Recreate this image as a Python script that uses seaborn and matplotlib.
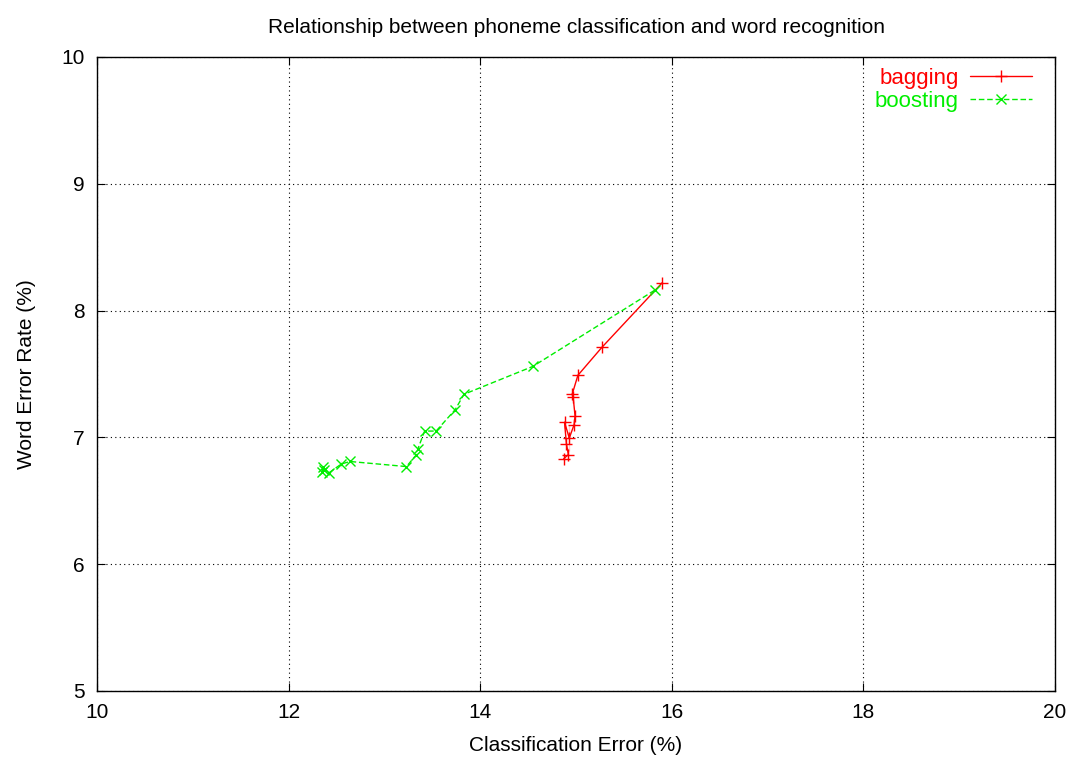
import matplotlib
matplotlib.use("Agg")
import matplotlib.pyplot as plt
import seaborn as sns
import pandas as pd

bagging_x = [15.90, 15.27, 15.02, 14.96, 14.97, 14.99, 14.98, 14.93, 14.88, 14.90, 14.92, 14.93, 14.87, 14.92]
bagging_y = [8.22, 7.71, 7.49, 7.34, 7.32, 7.17, 7.10, 7.10, 7.12, 6.95, 6.92, 6.89, 6.83, 6.81]
boosting_x = [15.82, 14.55, 13.83, 13.74, 13.54, 13.42, 13.35, 13.33, 13.23, 12.64, 12.55, 12.55, 12.42, 12.37, 12.36, 12.35]
boosting_y = [8.16, 7.56, 7.34, 7.22, 7.05, 7.05, 6.91, 6.86, 6.77, 6.81, 6.81, 6.77, 6.72, 6.74, 6.77, 6.73]

sns.set_style("ticks")
plt.rcParams['font.family'] = ['Liberation Sans', 'DejaVu Sans']
plt.rcParams['text.color'] = 'black'
plt.rcParams['axes.labelcolor'] = 'black'
plt.rcParams['xtick.color'] = 'black'
plt.rcParams['ytick.color'] = 'black'

fig = plt.figure(figsize=(10.73, 7.58), dpi=100)
ax = fig.add_axes([97/1073, 1-691/758, (1055-97)/1073, (691-57)/758])

df_bag = pd.DataFrame({"x": bagging_x, "y": bagging_y})
df_boo = pd.DataFrame({"x": boosting_x, "y": boosting_y})

red = "#ff0000"
green = "#00ee00"
sns.lineplot(data=df_bag, x="x", y="y", sort=False, ax=ax, color=red,
             marker="+", markersize=9, markeredgewidth=1, markeredgecolor=red,
             linewidth=1, label="bagging")
sns.lineplot(data=df_boo, x="x", y="y", sort=False, ax=ax, color=green,
             marker="x", markersize=7, markeredgewidth=1, markeredgecolor=green,
             linewidth=1, label="boosting")
ax.lines[1].set_dashes([4, 2])

ax.set_xlim(10, 20)
ax.set_ylim(5, 10)
ax.set_xticks([10, 12, 14, 16, 18, 20])
ax.set_yticks([5, 6, 7, 8, 9, 10])
ax.grid(True, color="black", linestyle=(0, (1, 3)), linewidth=0.8)
ax.tick_params(direction="in", top=True, right=True, length=6, labelsize=15, width=0.8, pad=9,
               colors="black")
for s in ax.spines.values():
    s.set_color("black")
    s.set_linewidth(1)
ax.set_xlabel("Classification Error (%)", fontsize=15, labelpad=10, color="black")
ax.set_ylabel("Word Error Rate (%)", fontsize=15, labelpad=18, color="black")
ax.set_title("Relationship between phoneme classification and word recognition",
             fontsize=15, pad=17, color="black")

leg = ax.legend(loc="upper right", bbox_to_anchor=(1032/1073, 1-68/758),
                bbox_transform=fig.transFigure, markerfirst=False, frameon=True, fontsize=16,
                labelcolor="linecolor", handlelength=2.8, borderaxespad=0, borderpad=0,
                handletextpad=0.5, labelspacing=0.1)
leg.get_frame().set_facecolor("white")
leg.get_frame().set_edgecolor("white")
leg.get_frame().set_alpha(1)
for t in leg.get_texts():
    t.set_ha("right")

fig.savefig("out.png", dpi=100)
